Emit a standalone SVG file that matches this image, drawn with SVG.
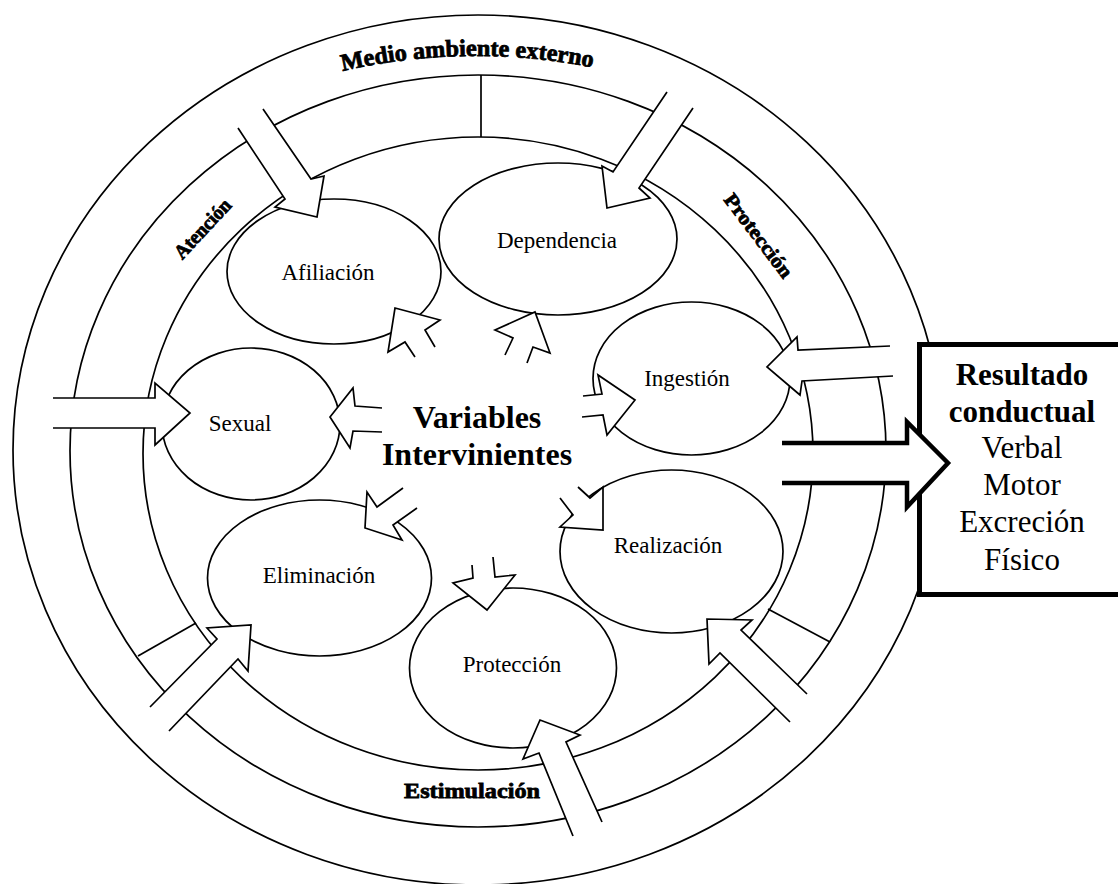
<svg xmlns="http://www.w3.org/2000/svg" width="1118" height="884" viewBox="0 0 1118 884">
<style>
.ring{fill:none;stroke:#000;stroke-width:1.7}
.div{stroke:#000;stroke-width:1.7}
.node ellipse{fill:#fff;stroke:#000;stroke-width:1.7}
.lbl{font-family:"Liberation Serif","Times New Roman",serif;font-size:23px;text-anchor:middle;fill:#000}
.band{font-family:"Liberation Serif","Times New Roman",serif;font-weight:bold;text-anchor:middle;fill:#000;stroke:#000;stroke-width:0.8}
.ctr{font-family:"Liberation Serif","Times New Roman",serif;font-weight:bold;font-size:32px;text-anchor:middle;fill:#000}
.box{font-family:"Liberation Serif","Times New Roman",serif;font-size:31px;text-anchor:middle;fill:#000}
.arr{fill:#fff;stroke:#000;stroke-width:1.7;stroke-linejoin:miter}
.thick{fill:#fff;stroke:#000;stroke-width:4.5;stroke-linejoin:miter}
</style>
<defs>
<path id="topArc" d="M330,74 Q467,40 605,70"/>
</defs>
<rect width="1118" height="884" fill="#fff"/>
<g id="rings">
<ellipse class="ring" cx="478" cy="450" rx="465" ry="435"/>
<ellipse class="ring" cx="478" cy="451" rx="408" ry="376"/>
<ellipse class="ring" cx="478" cy="453.5" rx="335" ry="316.5"/>
<line class="div" x1="481" y1="75" x2="481" y2="137"/>
<line class="div" x1="138" y1="656" x2="196" y2="623"/>
<line class="div" x1="768" y1="609" x2="830" y2="642"/>
</g>
<g id="band-labels">
<text class="band" font-size="24"><textPath href="#topArc" startOffset="50%" textLength="252" lengthAdjust="spacingAndGlyphs">Medio ambiente externo</textPath></text>
<text class="band" font-size="20" transform="translate(203,229) rotate(-47)" x="0" y="6" textLength="74" lengthAdjust="spacingAndGlyphs">Atención</text>
<text class="band" font-size="20" transform="translate(758,236) rotate(53)" x="0" y="6" textLength="100" lengthAdjust="spacingAndGlyphs">Protección</text>
<text class="band" font-size="22" x="472" y="798" textLength="136" lengthAdjust="spacingAndGlyphs">Estimulación</text>
</g>
<g id="node-afiliacion" class="node"><ellipse cx="334" cy="271.5" rx="107" ry="72.5"/><text class="lbl" x="328" y="280">Afiliación</text></g>
<g id="node-dependencia" class="node"><ellipse cx="558" cy="239" rx="119" ry="76"/><text class="lbl" x="557" y="248">Dependencia</text></g>
<g id="node-ingestion" class="node"><ellipse cx="691.5" cy="378.5" rx="98.5" ry="76.5"/><text class="lbl" x="687" y="386">Ingestión</text></g>
<g id="node-sexual" class="node"><ellipse cx="251" cy="424" rx="89" ry="76"/><text class="lbl" x="240" y="431">Sexual</text></g>
<g id="node-eliminacion" class="node"><ellipse cx="319.5" cy="578" rx="112" ry="78"/><text class="lbl" x="319" y="583">Eliminación</text></g>
<g id="node-realizacion" class="node"><ellipse cx="671.5" cy="551.5" rx="111.5" ry="81.5"/><text class="lbl" x="668" y="553">Realización</text></g>
<g id="node-proteccion" class="node"><ellipse cx="513" cy="668" rx="103.5" ry="80"/><text class="lbl" x="512" y="672">Protección</text></g>
<g id="node-variables"><text class="ctr" x="477" y="428">Variables</text><text class="ctr" x="477" y="465">Intervinientes</text></g>
<g id="node-resultado">
<rect x="919.5" y="344.5" width="300" height="250" fill="#fff" stroke="#000" stroke-width="5"/>
<text class="box" x="1022" y="385" font-weight="bold">Resultado</text>
<text class="box" x="1022" y="422" font-weight="bold">conductual</text>
<text class="box" x="1022" y="458">Verbal</text>
<text class="box" x="1022" y="495">Motor</text>
<text class="box" x="1022" y="532">Excreción</text>
<text class="box" x="1022" y="570">Físico</text>
</g>
<g id="connectors">
<path class="arr" d="M53,398 L155,398 L155,383 L190,413 L155,445 L155,428 L53,428"/>
<path class="arr" d="M382,408 L355,406 L353,388 L330,417 L350,448 L353,431 L382,432"/>
<path class="arr" d="M435,347 L425,330 L440,320 L395,308 L388,352 L405,342 L415,357"/>
<path class="arr" d="M527,363 L533,347 L550,353 L535,312 L495,330 L513,338 L505,355"/>
<path class="arr" d="M583,396 L602,394 L598,375 L635,400 L607,435 L603,415 L582,417"/>
<path class="arr" d="M578,487 L590,498 L603,487 L603,530 L560,527 L573,515 L560,498"/>
<path class="arr" d="M403,488 L377,507 L367,492 L365,528 L402,540 L393,525 L417,508"/>
<path class="arr" d="M472,565 L473,578 L453,583 L487,610 L515,575 L495,577 L493,557"/>
<path class="arr" d="M238,128 L285,199 L275,207 L317,217 L324,176 L311,179 L263,109"/>
<path class="arr" d="M667,92 L613,172 L602,166 L607,208 L650,198 L639,188 L693,108"/>
<path class="arr" d="M890,346 L798,350 L797,337 L767,367 L800,395 L802,381 L893,376"/>
<path class="arr" d="M150,707 L217,639 L207,628 L251,625 L248,671 L238,659 L169,731"/>
<path class="arr" d="M790,722 L720,653 L709,664 L707,619 L752,620 L741,630 L807,694"/>
<path class="arr" d="M573,836 L539,753 L523,759 L540,720 L580,735 L566,742 L602,822"/>
<path class="thick" d="M782,443 L907,443 L907,422 L948,463 L907,507 L907,483 L782,483"/>
</g>
</svg>
